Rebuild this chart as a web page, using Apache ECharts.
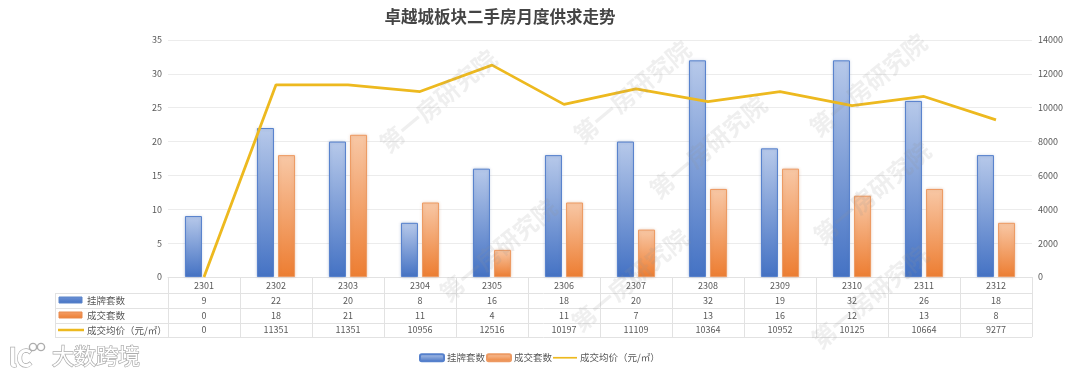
<!DOCTYPE html>
<html><head><meta charset="utf-8">
<style>html,body{margin:0;padding:0;background:#fff}#c{width:1080px;height:375px}</style>
<script src="https://cdn.jsdelivr.net/npm/echarts@6/dist/echarts.min.js"></script></head>
<body><div id="c"></div>
<script>
const titleText = '卓越城板块二手房月度供求走势';
const months = ['2301','2302','2303','2304','2305','2306','2307','2308','2309','2310','2311','2312'];
const listed = [9,22,20,8,16,18,20,32,19,32,26,18];
const sold = [0,18,21,11,4,11,7,13,16,12,13,8];
const price = [0,11351,11351,10956,12516,10197,11109,10364,10952,10125,10664,9277];
const seriesNames = ['挂牌套数','成交套数','成交均价（元/㎡）'];
const watermark = '第一房研究院';
const logoText = '大数跨境';

const font = '"Noto Sans CJK SC","Noto Sans",sans-serif';
const L = 168, R = 1032, T = 40, B = 277, TL = 55;
const rows = [293, 308, 323, 337];
const lineC = '#e2e2e2', txt = '#595959';
const grad = (a, b) => new echarts.graphic.LinearGradient(0, 0, 0, 1, [{offset:0,color:a},{offset:1,color:b}]);
const blueG = () => grad('#b7c9ea', '#4472c4');
const orangeG = () => grad('#f8c8a6', '#ed7d31');

const chart = echarts.init(document.getElementById('c'), null, {renderer:'canvas'});

const rowAxis = (data, offset) => ({
  type:'category', data:data.map(String), position:'bottom', offset, gridIndex:0,
  axisLine:{show:false}, axisTick:{show:false}, splitLine:{show:false},
  axisLabel:{interval:0, margin:0, verticalAlign:'middle', color:txt, fontSize:9, fontFamily:font, hideOverlap:false}
});

const g = [];
rows.forEach(y => g.push({type:'line', silent:true, z:1, shape:{x1:TL,y1:y+.5,x2:R,y2:y+.5}, style:{stroke:lineC,lineWidth:1}}));
g.push({type:'line', silent:true, z:1, shape:{x1:TL+.5,y1:rows[0],x2:TL+.5,y2:rows[3]}, style:{stroke:lineC,lineWidth:1}});
g.push({type:'rect', z:2, shape:{x:59,y:297,width:23,height:6}, style:{fill:grad('#6f93d6','#4472c4'),stroke:'#5b84c9',lineWidth:1}});
g.push({type:'rect', z:2, shape:{x:59,y:312,width:23,height:6}, style:{fill:grad('#f4a06a','#ed7d31'),stroke:'#e98a4c',lineWidth:1}});
g.push({type:'line', z:2, shape:{x1:58,y1:330,x2:84,y2:330}, style:{stroke:'#edb91f',lineWidth:2.5}});
seriesNames.forEach((n,i) => g.push({type:'text', z:2, style:{x:87,y:300.5+i*15,text:n,fill:txt,font:'9.5px '+font,verticalAlign:'middle'}}));
[[438,101],[632,92],[708,147],[868,85],[872,193],[498,250],[630,280],[870,297]].forEach(p =>
  g.push({type:'text', silent:true, z:20, x:p[0], y:p[1], rotation:40*Math.PI/180,
    style:{x:0,y:0,text:watermark,align:'center',verticalAlign:'middle',fill:'rgba(150,150,150,.15)',font:'bold 24px '+font}}));
const logoStyle = {fill:'#fff',stroke:'#adadad',lineWidth:1.4,shadowColor:'rgba(120,120,120,.7)',shadowBlur:3};
g.push({type:'text', z:21, style:{x:52,y:356,text:logoText,verticalAlign:'middle',font:'22px '+font,...logoStyle}});
g.push({type:'text', z:21, style:{x:9,y:358,text:'lC',verticalAlign:'middle',font:'bold 24px '+font,...logoStyle}});
[[33,347],[41,347]].forEach(p => g.push({type:'circle', z:21, shape:{cx:p[0],cy:p[1],r:3.6}, style:{fill:'#fff',stroke:'#adadad',lineWidth:1.4}}));

chart.setOption({
  animation:false, backgroundColor:'#fff',
  title:{text:titleText, left:495, top:3, textAlign:'center', textStyle:{fontFamily:font,fontSize:16.5,fontWeight:'bold',color:'#444'}},
  grid:{left:L, right:1080-R, top:T, bottom:375-B, containLabel:false},
  legend:{left:419, top:353, padding:0, itemWidth:24, itemHeight:7, itemGap:1, symbolKeepAspect:false,
    data:[{name:seriesNames[0]},{name:seriesNames[1]},{name:seriesNames[2],icon:'path://M0 0L0 0M0 38L100 38L100 62L0 62ZM100 100L100 100'}],
    textStyle:{fontFamily:font,fontSize:9.5,color:txt,padding:[0,0,0,-2]}},
  xAxis:[
    {type:'category', data:months, position:'bottom', boundaryGap:true,
     axisLine:{show:true,lineStyle:{color:lineC}},
     axisTick:{show:true,length:60,lineStyle:{color:lineC}},
     axisLabel:{interval:0,margin:4,color:txt,fontSize:9,fontFamily:font}},
    rowAxis(listed, 23.5), rowAxis(sold, 38.5), rowAxis(price, 53)
  ],
  yAxis:[
    {type:'value',min:0,max:35,interval:5,axisLine:{show:false},axisTick:{show:false},
     splitLine:{lineStyle:{color:'#ececec'}},axisLabel:{color:txt,fontSize:9,margin:6,fontFamily:font}},
    {type:'value',min:0,max:14000,interval:2000,position:'right',axisLine:{show:false},axisTick:{show:false},
     splitLine:{show:false},axisLabel:{color:txt,fontSize:9,margin:6,fontFamily:font,formatter:v=>String(v)}}
  ],
  series:[
    {name:seriesNames[0],type:'bar',data:listed,barWidth:17,barGap:'24%',z:3,
     itemStyle:{color:blueG(),borderColor:'#5580cc',borderWidth:1,shadowColor:'rgba(80,110,170,.3)',shadowBlur:3}},
    {name:seriesNames[1],type:'bar',data:sold.map(v=>v||null),barWidth:17,z:3,
     itemStyle:{color:orangeG(),borderColor:'#ed9a63',borderWidth:1,shadowColor:'rgba(200,130,80,.3)',shadowBlur:3}},
    {name:seriesNames[2],type:'line',yAxisIndex:1,data:price,symbol:'none',z:5,
     lineStyle:{color:'#edb91f',width:2.8},itemStyle:{color:'#edb91f'}}
  ],
  graphic:g
});
</script></body></html>
